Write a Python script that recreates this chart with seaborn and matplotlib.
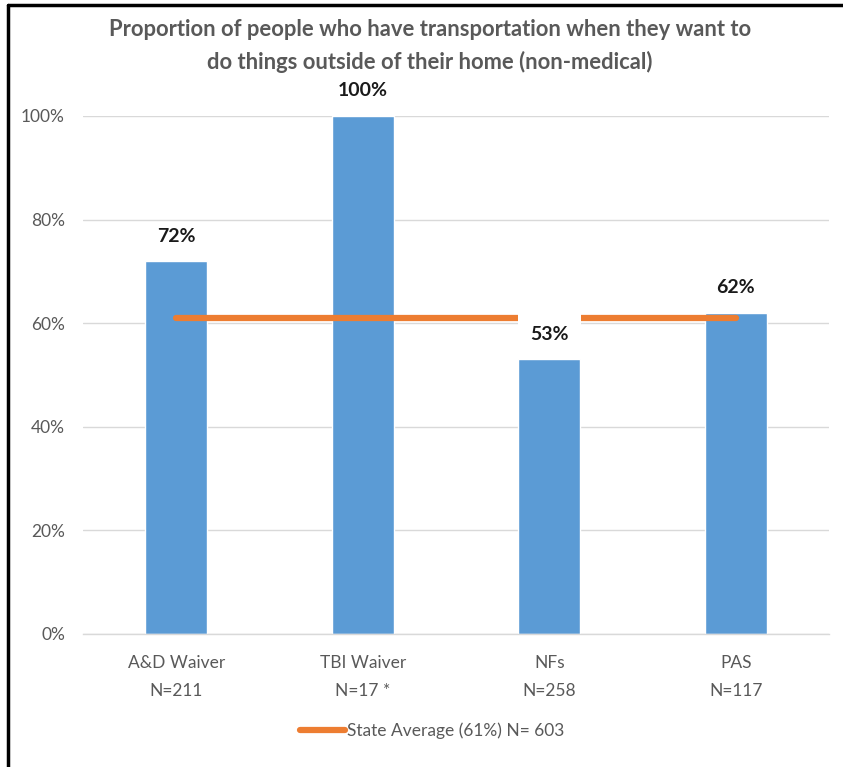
import matplotlib
matplotlib.use("Agg")
import matplotlib.pyplot as plt
from matplotlib.lines import Line2D
import numpy as np
import seaborn as sns

# Program groups, sample sizes and share with transportation
categories = ["A&D Waiver", "TBI Waiver", "NFs", "PAS"]
sample_sizes = ["N=211", "N=17 *", "N=258", "N=117"]
values = [0.72, 1.00, 0.53, 0.62]
state_avg = [0.61, 0.61, 0.61, 0.61]
state_label = "State Average (61%) N= 603"
y_ticks = [0.0, 0.2, 0.4, 0.6, 0.8, 1.0]
y_tick_labels = ["0%", "20%", "40%", "60%", "80%", "100%"]
title = ("Proportion of people who have transportation when they want to\n"
         "do things outside of their home (non-medical)")

BAR = "#5B9BD5"
LINE = "#ED7D31"
GRID = "#D9D9D9"
TXT = "#595959"

sns.set_theme(style="white")
plt.rcParams["font.family"] = ["Lato", "DejaVu Sans"]

fig = plt.figure(figsize=(8.43, 7.67), dpi=100)
ax = fig.add_axes([83 / 843, 133 / 767, 746 / 843, 518 / 767])

sns.barplot(x=categories, y=values, color=BAR, width=0.33, saturation=1,
            ax=ax, zorder=2)
sns.lineplot(x=np.arange(len(categories)), y=state_avg, color=LINE,
             linewidth=4.5, ax=ax, zorder=3, label=state_label)

ax.set_xlim(-0.5, len(categories) - 0.5)
ax.set_ylim(0, 1)
ax.set_yticks(y_ticks)
ax.set_yticklabels(y_tick_labels)
ax.set_xticks(range(len(categories)))
ax.set_xticklabels([f"{c}\n{n}" for c, n in zip(categories, sample_sizes)],
                   linespacing=1.95)
ax.tick_params(axis="y", length=0, pad=13, labelsize=12.5, labelcolor=TXT)
ax.tick_params(axis="x", length=0, pad=15, labelsize=12.5, labelcolor=TXT)
ax.set_xlabel("")
ax.set_ylabel("")
ax.grid(axis="y", color=GRID, linewidth=1, zorder=0)
ax.set_axisbelow(True)
for s in ["left", "right", "top"]:
    ax.spines[s].set_visible(False)
ax.spines["bottom"].set_color(GRID)
ax.spines["bottom"].set_linewidth(1)

# Value labels above the bars
for i, v in enumerate(values):
    kw = dict(ha="center", va="center", fontsize=14, fontweight="bold",
              color="#1a1a1a", clip_on=False, zorder=5)
    if abs(v - state_avg[i]) < 0.1 and v < state_avg[i]:
        kw["bbox"] = dict(facecolor="white", edgecolor="none", pad=9)
    ax.annotate(f"{v:.0%}", xy=(i, v), xytext=(0, 18),
                textcoords="offset points", **kw)

fig.text(430 / 843, 1 - 46 / 767, title, ha="center", va="center",
         fontsize=15.8, fontweight="bold", color=TXT, linespacing=1.6)

leg = ax.legend(loc="center", bbox_to_anchor=(432 / 843, 1 - 731 / 767),
                bbox_transform=fig.transFigure, frameon=False, fontsize=12.5,
                handlelength=2.6, handletextpad=0.1, labelcolor=TXT)
for h in leg.get_lines():
    h.set_linewidth(4.5)

# Frame edges on the left and top
fig.add_artist(Line2D([8 / 843, 8 / 843], [0, 1 - 5 / 767], color="black",
                      linewidth=2.5, transform=fig.transFigure))
fig.add_artist(Line2D([8 / 843, 1], [1 - 5 / 767, 1 - 5 / 767], color="black",
                      linewidth=2.5, transform=fig.transFigure))

fig.savefig("out.png", dpi=100)
